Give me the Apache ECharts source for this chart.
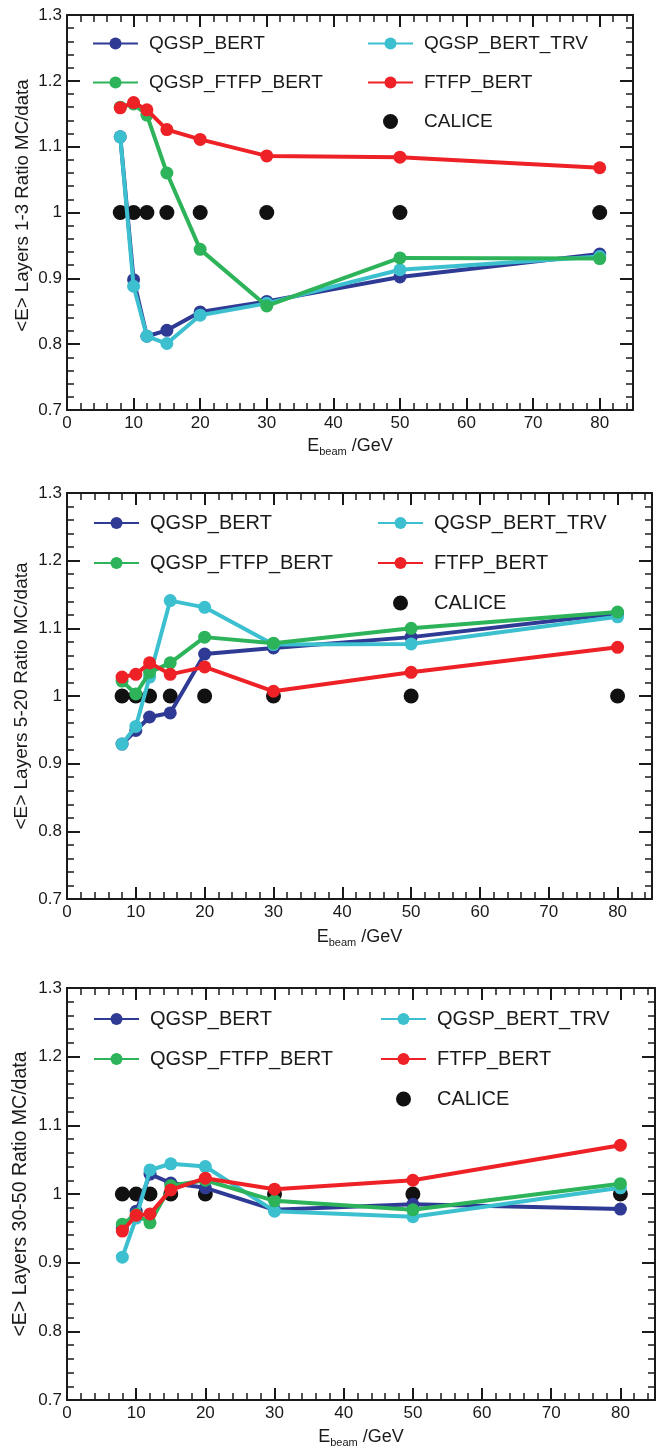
<!DOCTYPE html>
<html><head><meta charset="utf-8">
<script src="https://cdn.jsdelivr.net/npm/echarts@6/dist/echarts.min.js"></script>
<style>html,body{margin:0;padding:0;background:#fff}#c{width:657px;height:1448px}</style>
</head><body><div id="c"></div>
<script>
// ---------------- data ----------------
const energies = [8, 10, 12, 15, 20, 30, 50, 80];
const xTickLabels = ['0', '10', '20', '30', '40', '50', '60', '70', '80'];
const yTickLabels = ['0.7', '0.8', '0.9', '1', '1.1', '1.2', '1.3'];
const yTitles = ['<E> Layers 1-3 Ratio MC/data', '<E> Layers 5-20 Ratio MC/data', '<E> Layers 30-50 Ratio MC/data'];
const seriesNames = ['CALICE', 'QGSP_BERT', 'QGSP_BERT_TRV', 'QGSP_FTFP_BERT', 'FTFP_BERT'];

const calice = [1, 1, 1, 1, 1, 1, 1, 1];

const p1QgspBert     = [1.115, 0.898, 0.812, 0.821, 0.849, 0.865, 0.902, 0.937];
const p1QgspBertTrv  = [1.115, 0.888, 0.812, 0.801, 0.844, 0.862, 0.913, 0.933];
const p1QgspFtfpBert = [1.160, 1.165, 1.148, 1.060, 0.944, 0.858, 0.931, 0.930];
const p1FtfpBert     = [1.159, 1.167, 1.156, 1.126, 1.111, 1.086, 1.084, 1.068];

const p2QgspBert     = [0.929, 0.949, 0.969, 0.975, 1.062, 1.071, 1.087, 1.122];
const p2QgspBertTrv  = [0.929, 0.955, 1.028, 1.141, 1.131, 1.076, 1.077, 1.117];
const p2QgspFtfpBert = [1.022, 1.003, 1.035, 1.049, 1.087, 1.078, 1.100, 1.124];
const p2FtfpBert     = [1.028, 1.032, 1.049, 1.032, 1.043, 1.007, 1.035, 1.072];

const p3QgspBert     = [0.950, 0.975, 1.029, 1.016, 1.009, 0.977, 0.985, 0.978];
const p3QgspBertTrv  = [0.908, 0.965, 1.035, 1.044, 1.040, 0.975, 0.967, 1.009];
const p3QgspFtfpBert = [0.956, 0.970, 0.958, 1.012, 1.020, 0.990, 0.977, 1.015];
const p3FtfpBert     = [0.946, 0.969, 0.971, 1.006, 1.023, 1.007, 1.020, 1.071];

const panels = [
  [calice, p1QgspBert, p1QgspBertTrv, p1QgspFtfpBert, p1FtfpBert],
  [calice, p2QgspBert, p2QgspBertTrv, p2QgspFtfpBert, p2FtfpBert],
  [calice, p3QgspBert, p3QgspBertTrv, p3QgspFtfpBert, p3FtfpBert]
];

// ---------------- style / layout ----------------
const FONT = 'Liberation Sans, Arial, Helvetica, sans-serif';
const AX = '#1a1a1a';
const colors = ['#111111', '#2e3a94', '#3cc0cf', '#2db35a', '#ee2226'];
const grids = [
  {left: 67, top: 15, width: 566, height: 395, outerBoundsMode: 'none', containLabel: false},
  {left: 67, top: 493, width: 585, height: 406, outerBoundsMode: 'none', containLabel: false},
  {left: 67, top: 988, width: 588, height: 412, outerBoundsMode: 'none', containLabel: false}
];
const legendPos = [
  {l: 92, r: 367, top: 34, font: 19, gap: 20},
  {l: 93, r: 377, top: 513, font: 20, gap: 20},
  {l: 93, r: 380, top: 1009, font: 20, gap: 20}
];
const yNameGap = [35, 36, 36];
const yNamePad = [[0, 0, 0, 14], [0, 0, 0, 0], [0, 0, 0, 0]];
const xNameGap = [25, 27, 26];
const yTitleFont = [18.7, 19, 19.5];

const xAxes = [], yAxes = [], series = [], legends = [];

function xAxisBase(g, pos, interval, len, w, labels) {
  return {
    gridIndex: g, type: 'value', min: 0, max: 85, interval: interval, position: pos,
    axisLine: {show: labels, onZero: false, lineStyle: {color: AX, width: 2}},
    axisTick: {show: true, inside: true, length: len, lineStyle: {color: AX, width: w}},
    splitLine: {show: false},
    axisLabel: {show: false}
  };
}

grids.forEach((gr, g) => {
  const bx = xAxisBase(g, 'bottom', 10, 12, 2, true);
  bx.axisLabel = {
    show: true, fontSize: 17, fontFamily: FONT, color: AX, margin: 5, showMaxLabel: false,
    formatter: v => { const i = Math.round(v / 10); return (Math.abs(v - i * 10) < 1e-6 && i < xTickLabels.length) ? xTickLabels[i] : ''; }
  };
  bx.name = '{e|E}{s|beam}{e| /GeV}';
  bx.nameLocation = 'middle';
  bx.nameGap = xNameGap[g];
  bx.nameMoveOverlap = false;
  bx.nameTextStyle = {
    color: AX, fontFamily: FONT,
    rich: {
      e: {fontSize: 18, fontFamily: FONT, color: AX, lineHeight: 22},
      s: {fontSize: 11, fontFamily: FONT, color: AX, lineHeight: 11, verticalAlign: 'bottom'}
    }
  };
  xAxes.push(bx);
  xAxes.push(xAxisBase(g, 'bottom', 2, 7, 1.5, false));
  xAxes.push(xAxisBase(g, 'top', 10, 12, 2, true));
  xAxes.push(xAxisBase(g, 'top', 2, 7, 1.5, false));

  const yBase = (pos, labels) => ({
    gridIndex: g, type: 'value', min: 0.7, max: 1.3, interval: 0.1, position: pos,
    axisLine: {show: true, onZero: false, lineStyle: {color: AX, width: 2}},
    axisTick: {show: true, inside: true, length: 13, lineStyle: {color: AX, width: 2}},
    minorTick: {show: true, splitNumber: 5, length: 7, lineStyle: {color: AX, width: 1.5}},
    splitLine: {show: false}, minorSplitLine: {show: false},
    axisLabel: labels ? {
      show: true, fontSize: 17, fontFamily: FONT, color: AX, margin: 5,
      formatter: v => { const i = Math.round((v - 0.7) * 10); return yTickLabels[i] || ''; }
    } : {show: false}
  });
  const ly = yBase('left', true);
  ly.name = yTitles[g];
  ly.nameLocation = 'middle';
  ly.nameGap = yNameGap[g];
  ly.nameMoveOverlap = false;
  ly.nameTextStyle = {fontSize: yTitleFont[g], fontFamily: FONT, color: AX, padding: yNamePad[g]};
  yAxes.push(ly);
  yAxes.push(yBase('right', false));

  panels[g].forEach((vals, s) => {
    const data = energies.map((e, i) => [e, vals[i]]);
    if (s === 0) {
      series.push({
        type: 'scatter', name: seriesNames[s], xAxisIndex: g * 4, yAxisIndex: g * 2,
        data: data, symbol: 'circle', symbolSize: 15, itemStyle: {color: colors[s], opacity: 1},
        emphasis: {disabled: true}, z: 2
      });
    } else {
      series.push({
        type: 'line', name: seriesNames[s], xAxisIndex: g * 4, yAxisIndex: g * 2,
        data: data, symbol: 'circle', symbolSize: 13, showSymbol: true,
        lineStyle: {color: colors[s], width: 4}, itemStyle: {color: colors[s], opacity: 1},
        emphasis: {disabled: true}, z: 2 + s
      });
    }
  });

  const lp = legendPos[g];
  const legBase = {
    orient: 'vertical', top: lp.top, itemWidth: 45, itemHeight: 15, itemGap: lp.gap,
    padding: 0, selectedMode: false,
    textStyle: {fontSize: lp.font, fontFamily: FONT, color: AX, padding: [0, 0, 0, 6]}
  };
  legends.push(Object.assign({}, legBase, {left: lp.l, data: ['QGSP_BERT', 'QGSP_FTFP_BERT']}));
  legends.push(Object.assign({}, legBase, {left: lp.r, data: ['QGSP_BERT_TRV', 'FTFP_BERT', 'CALICE']}));
});

const chart = echarts.init(document.getElementById('c'), null, {renderer: 'canvas'});
chart.setOption({
  animation: false,
  backgroundColor: '#fff',
  grid: grids,
  xAxis: xAxes,
  yAxis: yAxes,
  legend: legends,
  series: series
});
</script></body></html>
